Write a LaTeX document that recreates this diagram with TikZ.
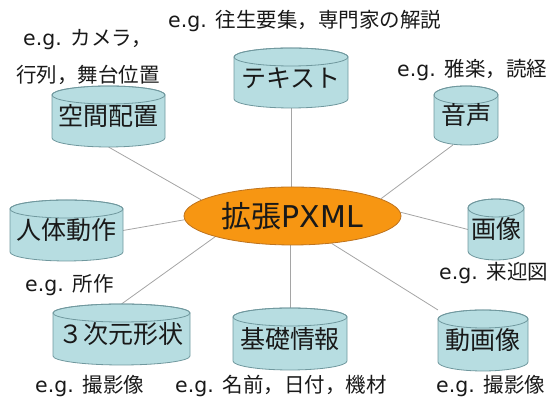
\documentclass[tikz,border=0pt]{standalone}
\usepackage{fontspec}
\setmainfont{Noto Sans CJK JP}
\newfontfamily\lat{DejaVu Sans}
\usetikzlibrary{shapes.geometric,calc}
\pgfdeclarelayer{lines}
\pgfdeclarelayer{bg}
\pgfsetlayers{lines,bg,main}
\definecolor{cylfill}{RGB}{183,221,225}
\definecolor{cyldraw}{RGB}{112,152,158}
\definecolor{hubfill}{RGB}{247,150,18}
\definecolor{hubdraw}{RGB}{190,115,30}
\definecolor{linkcol}{RGB}{165,165,165}
\definecolor{txtcol}{RGB}{25,25,25}
\def\cylr{9pt}
\newcommand\eg{{\lat e.g. }}
\tikzset{
  cyltext/.style={rectangle, inner sep=0pt, outer sep=0pt, text=txtcol,
    font=\fontsize{25}{28}\selectfont},
  cylshape/.style={fill=cylfill, draw=cyldraw, line width=0.8pt},
  cylline/.style={draw=cyldraw, line width=0.8pt},
  hub/.style={ellipse, fill=hubfill, draw=hubdraw, line width=0.8pt, inner sep=0pt,
    minimum width=217pt, minimum height=58pt, text=txtcol,
    font=\fontsize{30}{33}\selectfont},
  note/.style={anchor=west, inner sep=0pt, text=txtcol,
    font=\fontsize{20.5}{24}\selectfont},
  link/.style={draw=linkcol, line width=0.8pt},
}
\newcommand\cylnode[6]{%
  \node[cyltext, minimum width=#4pt, minimum height=#5pt] (#1) at (#2,#3) {#6};
  \begin{pgfonlayer}{bg}
    \path[cylshape] ($(#1.north west)+(0,-\cylr)$) -- ($(#1.south west)+(0,\cylr)$)
      arc[start angle=180, end angle=360, x radius=#4pt/2, y radius=\cylr]
      -- ($(#1.north east)+(0,-\cylr)$)
      arc[start angle=0, end angle=180, x radius=#4pt/2, y radius=\cylr] -- cycle;
    \draw[cylline] ($(#1.north)+(0,-\cylr)$) ellipse[x radius=#4pt/2, y radius=\cylr];
  \end{pgfonlayer}}
\begin{document}
\begin{tikzpicture}[x=1pt,y=1pt]
\useasboundingbox (0,0) rectangle (550,398);
\node[hub] (c) at (292.5,182) {拡張{\lat PXML}};
\cylnode{txt}{291}{320}{114}{60}{テキスト}
\cylnode{kk}{108.5}{281.5}{113}{61}{空間配置}
\cylnode{on}{466}{282.5}{64}{59}{音声}
\cylnode{jt}{66.5}{167.5}{113}{61}{人体動作}
\cylnode{gz}{496}{168.5}{56}{61}{画像}
\cylnode{sj}{121.5}{63.5}{137}{61}{３次元形状}
\cylnode{ks}{290}{59}{114}{62}{基礎情報}
\cylnode{dg}{483}{57.5}{90}{61}{動画像}
\node[note] (n1) at (168,377) {\eg 往生要集，専門家の解説};
\node[note] (n2) at (23,358.5) {\eg カメラ，};
\node[note] (n3) at (16,323) {行列，舞台位置};
\node[note] (n4) at (397,328) {\eg 雅楽，読経};
\node[note] (n5) at (25,113) {\eg 所作};
\node[note] (n6) at (439,125) {\eg 来迎図};
\node[note] (n7) at (35,12) {\eg 撮影像};
\node[note] (n8) at (175,12) {\eg 名前，日付，機材};
\node[note] (n9) at (436,12) {\eg 撮影像};
\begin{pgfonlayer}{lines}
\draw[link] (txt.south) -- (txt.south |- c.north);
\draw[link] (kk.south) -- (c.170.6);
\draw[link] (on.246) -- (c.11.4);
\draw[link] (jt.east) -- (c.182);
\draw[link] (gz.west) -- (c.2);
\draw[link] (sj.north) -- (c.195);
\draw[link] (ks.north) -- (ks.north |- c.south);
\draw[link] (dg.north west) -- (c.325.6);
\end{pgfonlayer}
\end{tikzpicture}
\end{document}
